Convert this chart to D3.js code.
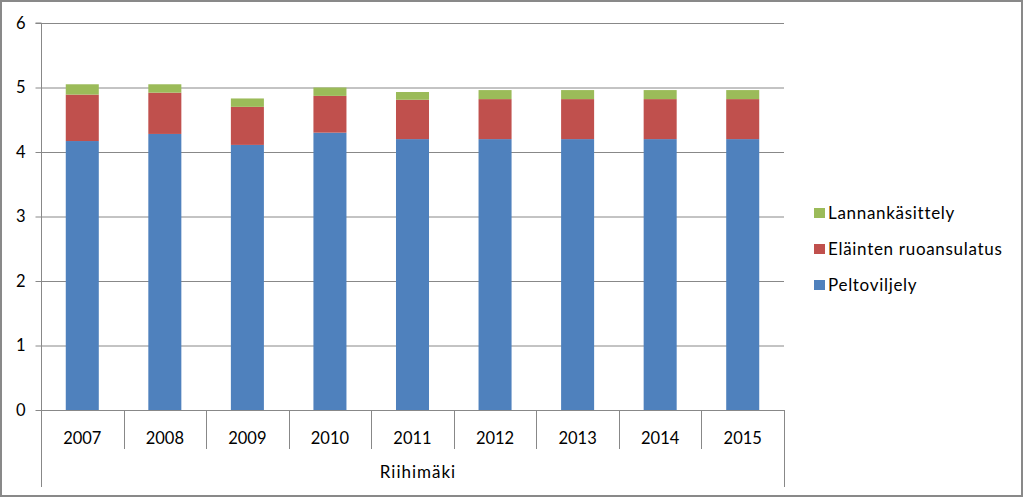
<!DOCTYPE html>
<html>
<head>
<meta charset="utf-8">
<script src="https://cdn.jsdelivr.net/npm/d3@7"></script>
<style>
  html, body { margin: 0; padding: 0; background: #fff; }
  svg { display: block; font-family: Lato, "Open Sans", sans-serif; }
</style>
</head>
<body>
<script>
// data
const years = ["2007", "2008", "2009", "2010", "2011", "2012", "2013", "2014", "2015"];
const peltoviljely = [4.17, 4.28, 4.11, 4.30, 4.20, 4.20, 4.20, 4.20, 4.20];
const ruoansulatus = [0.72, 0.64, 0.59, 0.57, 0.61, 0.62, 0.62, 0.62, 0.62];
const lannankasittely = [0.16, 0.13, 0.13, 0.13, 0.12, 0.14, 0.14, 0.14, 0.14];
const seriesNames = ["Peltoviljely", "Eläinten ruoansulatus", "Lannankäsittely"];
const seriesColors = ["#4F81BD", "#C0504D", "#9BBB59"];
const yTicks = [0, 1, 2, 3, 4, 5, 6];
const groupLabel = "Riihimäki";

const width = 1023, height = 497;
const plot = { left: 41, right: 784, top: 23, bottom: 410 };

const svg = d3.select("body").append("svg")
  .attr("width", width).attr("height", height);

// outer frame
svg.append("rect")
  .attr("x", 1).attr("y", 1).attr("width", width - 2).attr("height", height - 2)
  .attr("fill", "#fff").attr("stroke", "#898989").attr("stroke-width", 2);

const x = d3.scaleBand().domain(years).range([plot.left, plot.right]).paddingInner(0).paddingOuter(0);
const y = d3.scaleLinear().domain([0, 6]).range([plot.bottom, plot.top]);
const barW = x.bandwidth() * 0.4;

// gridlines
svg.append("g").selectAll("line").data(yTicks.filter(d => d > 0)).join("line")
  .attr("x1", plot.left).attr("x2", plot.right)
  .attr("y1", d => y(d) + 0.5).attr("y2", d => y(d) + 0.5)
  .attr("stroke", "#888").attr("stroke-width", 1);

// stacked bars
const rows = years.map((yr, i) => ({
  year: yr,
  [seriesNames[0]]: peltoviljely[i],
  [seriesNames[1]]: ruoansulatus[i],
  [seriesNames[2]]: lannankasittely[i]
}));
const stack = d3.stack().keys(seriesNames)(rows);

svg.append("g").selectAll("g").data(stack).join("g")
  .attr("fill", (d, i) => seriesColors[i])
  .selectAll("rect").data(d => d).join("rect")
  .attr("x", d => x(d.data.year) + (x.bandwidth() - barW) / 2)
  .attr("width", barW)
  .attr("y", d => y(d[1]))
  .attr("height", d => y(d[0]) - y(d[1]));

// y axis
const yAxis = svg.append("g")
  .attr("transform", `translate(${plot.left + 0.5},0)`)
  .call(d3.axisLeft(y).tickValues(yTicks).tickSize(6).tickPadding(10).tickFormat(d3.format("d")));
yAxis.select(".domain").attr("stroke", "#888").attr("d", `M-6,${plot.top}H0V${plot.bottom}`);
yAxis.selectAll(".tick line").attr("stroke", "#888");
yAxis.selectAll(".tick text").attr("font-size", 16.5).attr("fill", "#000")
  .attr("font-family", "Lato, 'Open Sans', sans-serif");

// x axis: baseline, category dividers, outer group lines
const xa = svg.append("g").attr("stroke", "#888").attr("stroke-width", 1);
xa.append("line")
  .attr("x1", plot.left).attr("x2", plot.right)
  .attr("y1", plot.bottom + 0.5).attr("y2", plot.bottom + 0.5);
xa.selectAll("line.div").data(years.slice(1)).join("line").attr("class", "div")
  .attr("x1", d => Math.round(x(d)) + 0.5).attr("x2", d => Math.round(x(d)) + 0.5)
  .attr("y1", plot.bottom).attr("y2", 449);
xa.selectAll("line.outer").data([plot.left, plot.right]).join("line").attr("class", "outer")
  .attr("x1", d => d + 0.5).attr("x2", d => d + 0.5)
  .attr("y1", plot.bottom).attr("y2", 487);

svg.append("g").selectAll("text").data(years).join("text")
  .attr("x", d => x(d) + x.bandwidth() / 2)
  .attr("y", 444)
  .attr("text-anchor", "middle")
  .attr("font-size", 16.5)
  .text(d => d);

svg.append("text")
  .attr("x", 418)
  .attr("y", 478)
  .attr("text-anchor", "middle")
  .attr("font-size", 17)
  .attr("letter-spacing", 1)
  .text(groupLabel);

// legend (top entry is last series)
const legendItems = seriesNames.map((n, i) => ({ name: n, color: seriesColors[i] })).reverse();
const legend = svg.append("g").selectAll("g").data(legendItems).join("g")
  .attr("transform", (d, i) => `translate(814,${208 + i * 36})`);
legend.append("rect").attr("width", 11).attr("height", 10).attr("fill", d => d.color);
legend.append("text").attr("x", 14).attr("y", 10.5).attr("font-size", 17)
  .attr("letter-spacing", 0.7).text(d => d.name);
</script>
</body>
</html>
